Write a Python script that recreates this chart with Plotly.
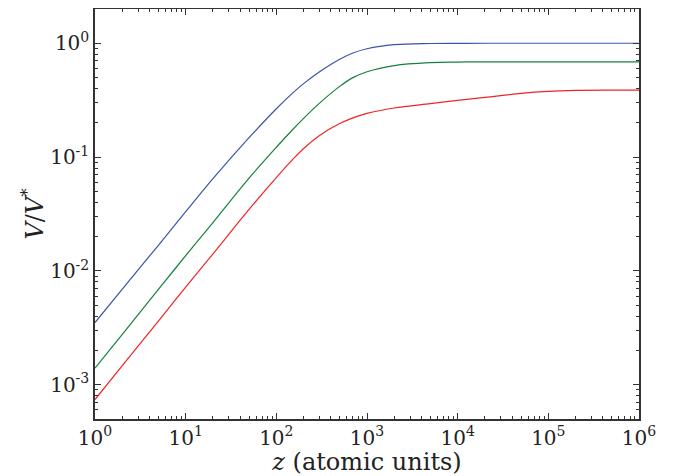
import plotly.graph_objects as go

# z values (atomic units)
z = [1, 2, 5, 10, 20, 50, 100, 150, 200, 300, 500, 700, 1000, 2000, 5000,
     10000, 20000, 50000, 100000, 200000, 500000, 1000000]

# V/V* for the three curves
v_blue = [0.00352, 0.00692, 0.0168, 0.0331, 0.0646, 0.148, 0.266, 0.363, 0.442,
          0.562, 0.724, 0.822, 0.895, 0.971, 0.995, 0.999, 1.0, 1.0, 1.0, 1.0, 1.0, 1.0]
v_green = [0.00140, 0.00277, 0.00687, 0.0136, 0.0266, 0.0653, 0.122, 0.173, 0.219,
           0.298, 0.418, 0.499, 0.562, 0.637, 0.676, 0.684, 0.686, 0.686, 0.686,
           0.686, 0.686, 0.686]
v_red = [0.000741, 0.00147, 0.00363, 0.00719, 0.0141, 0.0347, 0.0661, 0.0944, 0.119,
         0.155, 0.197, 0.221, 0.242, 0.270, 0.295, 0.315, 0.334, 0.363, 0.378,
         0.385, 0.387, 0.387]

x_tickvals = [1, 10, 100, 1000, 10000, 100000, 1000000]
x_ticktext = ["10<sup>0</sup>", "10<sup>1</sup>", "10<sup>2</sup>", "10<sup>3</sup>",
              "10<sup>4</sup>", "10<sup>5</sup>", "10<sup>6</sup>"]
y_tickvals = [0.001, 0.01, 0.1, 1]
y_ticktext = ["10<sup>-3</sup>", "10<sup>-2</sup>", "10<sup>-1</sup>", "10<sup>0</sup>"]

x_minor = [m * 10 ** k for k in range(0, 6) for m in range(2, 10)]
y_minor = [m * 10 ** k for k in range(-4, 1) for m in range(2, 10)]

fig = go.Figure()
for vals, col in [(v_blue, "#3a55a8"), (v_green, "#15803f"), (v_red, "#f02424")]:
    fig.add_trace(go.Scatter(x=z, y=vals, mode="lines",
                             line=dict(color=col, width=1.2, shape="spline", smoothing=1.0),
                             showlegend=False, hoverinfo="skip"))

axis_common = dict(
    type="log", showgrid=False, zeroline=False,
    showline=True, linecolor="#333333", linewidth=1.5, mirror="ticks",
    ticks="inside", ticklen=6, tickwidth=1.2, tickcolor="#333333",
    tickfont=dict(family="DejaVu Serif", size=20, color="#222222"),
)

fig.update_xaxes(
    **axis_common,
    range=[0, 6],
    tickvals=x_tickvals, ticktext=x_ticktext,
    minor=dict(ticks="inside", ticklen=3, tickwidth=1, tickcolor="#333333", tickvals=x_minor),
    title=dict(text="<i>z</i> (atomic units)", standoff=0,
               font=dict(family="DejaVu Serif", size=24, color="#222222")),
    automargin=False,
)
fig.update_yaxes(
    **axis_common,
    range=[-3.301, 0.301],
    tickvals=y_tickvals, ticktext=y_ticktext,
    minor=dict(ticks="inside", ticklen=3, tickwidth=1, tickcolor="#333333", tickvals=y_minor),
    title=dict(text="<i>V</i>/<i>V</i><sup>*</sup>", standoff=0,
               font=dict(family="DejaVu Serif", size=24, color="#222222")),
    automargin=False,
)

# the page body adds an 8 px offset, so the figure is 8 px smaller and margins shifted
fig.update_layout(
    width=673, height=468,
    margin=dict(l=87, r=42, t=1, b=57),
    paper_bgcolor="white", plot_bgcolor="white",
)

fig.write_html("out.html")
